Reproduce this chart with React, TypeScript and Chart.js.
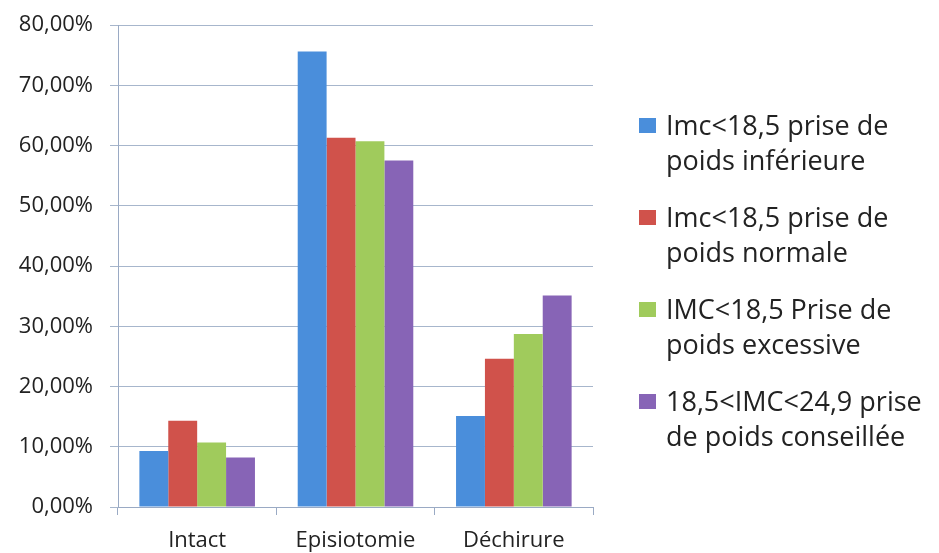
import React, { useEffect, useRef } from "react";
import { Chart, registerables } from "chart.js";

Chart.register(...registerables);

const categories = ["Intact", "Episiotomie", "Déchirure"];
const seriesNames = [
  ["Imc<18,5 prise de", "poids inférieure"],
  ["Imc<18,5 prise de", "poids normale"],
  ["IMC<18,5 Prise de", "poids excessive"],
  ["18,5<IMC<24,9 prise", "de poids conseillée"],
];
const inferieure = [9.3, 75.6, 15.1];
const normale = [14.3, 61.3, 24.6];
const excessive = [10.7, 60.7, 28.7];
const conseillee = [8.2, 57.5, 35.1];
const colors = ["#4a8edb", "#d0524b", "#a0cb5c", "#8764b6"];
const yMax = 80;
const yStep = 10;

const FONT = "'Open Sans', sans-serif";

export default function App() {
  const ref = useRef<HTMLCanvasElement>(null);
  useEffect(() => {
    document.body.style.margin = "0";
    const values = [inferieure, normale, excessive, conseillee];
    const chart = new Chart(ref.current!, {
      type: "bar",
      data: {
        labels: categories,
        datasets: values.map((v, i) => ({
          label: seriesNames[i].join(" "),
          data: v,
          backgroundColor: colors[i],
          borderWidth: 0,
          categoryPercentage: 0.73,
          barPercentage: 1,
        })),
      },
      options: {
        responsive: false,
        animation: false,
        layout: { padding: { top: 25, right: 346, left: 0, bottom: 0 } },
        plugins: { legend: { display: false }, tooltip: { enabled: false } },
        scales: {
          x: {
            grid: {
              offset: true,
              drawOnChartArea: false,
              tickLength: 8,
              color: "#9aaac4",
            },
            border: { color: "#9aaac4" },
            ticks: {
              color: "#222222",
              font: { family: FONT, size: 22 },
              padding: 13,
            },
            afterFit: (s: any) => {
              s.height = 46;
              s.paddingLeft = 0;
              s.paddingRight = 0;
            },
          },
          y: {
            min: 0,
            max: yMax,
            ticks: {
              stepSize: yStep,
              color: "#222222",
              font: { family: FONT, size: 22 },
              padding: 17,
              callback: (v: any) => Number(v).toFixed(2).replace(".", ",") + "%",
            },
            grid: { color: "#a7b6cc", tickLength: 8 },
            border: { color: "#9aaac4" },
            afterFit: (s: any) => {
              s.width = 118;
              s.paddingTop = 0;
              s.paddingBottom = 0;
            },
          },
        },
      },
    });
    return () => chart.destroy();
  }, []);

  return (
    <div style={{ position: "absolute", left: 0, top: 0, width: 939, height: 553, background: "#fff" }}>
      <canvas ref={ref} width={939} height={553} />
      <div
        style={{
          position: "absolute",
          left: 639,
          top: 107,
          fontFamily: FONT,
          fontSize: 27,
          color: "#222222",
          lineHeight: "35px",
          whiteSpace: "nowrap",
        }}
      >
        {seriesNames.map((lines, i) => (
          <div key={i} style={{ position: "relative", marginBottom: 22, paddingLeft: 27 }}>
            <span
              style={{
                position: "absolute",
                left: 0,
                top: 11,
                width: 17,
                height: 15,
                background: colors[i],
              }}
            />
            {lines.map((l, j) => (
              <div key={j}>{l}</div>
            ))}
          </div>
        ))}
      </div>
    </div>
  );
}
